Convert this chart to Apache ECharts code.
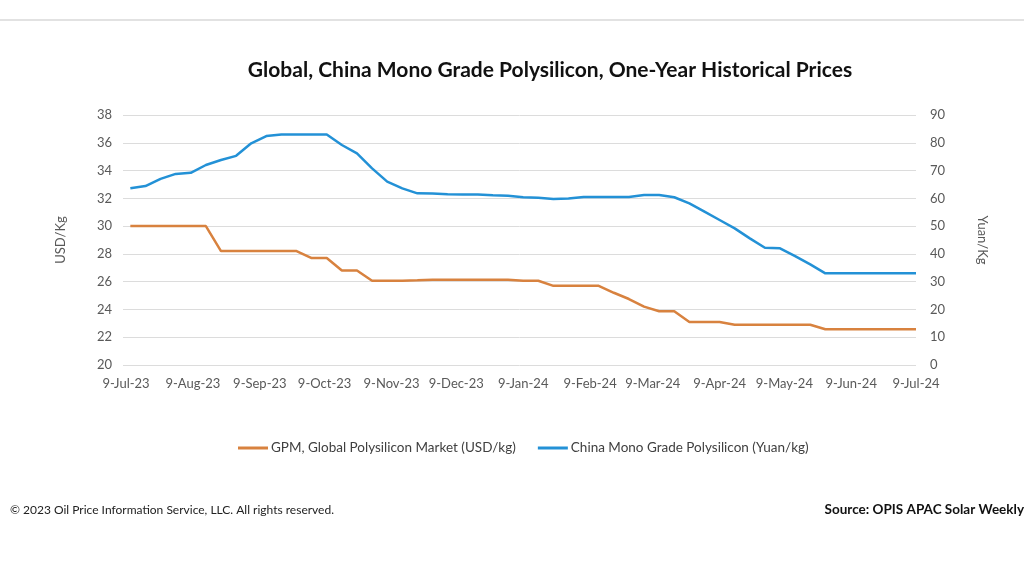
<!DOCTYPE html>
<html>
<head>
<meta charset="utf-8">
<script src="https://cdn.jsdelivr.net/npm/echarts@6/dist/echarts.min.js"></script>
<style>html,body{margin:0;padding:0;background:#fff;}#c{width:1024px;height:576px;}</style>
</head>
<body>
<div id="c"></div>
<script>
var weekDates = ["2023-07-11","2023-07-18","2023-07-25","2023-08-01","2023-08-08","2023-08-15","2023-08-22","2023-08-29",
"2023-09-05","2023-09-12","2023-09-19","2023-09-26","2023-10-03","2023-10-10","2023-10-17","2023-10-24","2023-10-31",
"2023-11-07","2023-11-14","2023-11-21","2023-11-28","2023-12-05","2023-12-12","2023-12-19","2023-12-26","2024-01-02",
"2024-01-09","2024-01-16","2024-01-23","2024-01-30","2024-02-06","2024-02-13","2024-02-20","2024-02-27","2024-03-05",
"2024-03-12","2024-03-19","2024-03-26","2024-04-02","2024-04-09","2024-04-16","2024-04-23","2024-04-30","2024-05-07",
"2024-05-14","2024-05-21","2024-05-28","2024-06-04","2024-06-11","2024-06-18","2024-06-25","2024-07-02","2024-07-09"];
var gpmUSD = [30,30,30,30,30,30,28.2,28.2,28.2,28.2,28.2,28.2,27.7,27.7,26.8,26.8,26.07,26.07,26.07,26.1,26.14,26.14,26.14,26.14,26.14,26.14,
26.07,26.07,25.7,25.7,25.7,25.7,25.2,24.75,24.2,23.87,23.87,23.1,23.1,23.1,22.9,22.9,22.9,22.9,22.9,22.9,22.57,22.57,22.57,22.57,22.57,22.57,22.57];
var chinaYuan = [63.6,64.4,67,68.8,69.2,72,73.8,75.3,79.8,82.4,83,83,83,83,79.2,76.2,70.8,66,63.6,61.8,61.7,61.5,61.4,61.4,61.1,60.9,
60.4,60.2,59.8,59.9,60.5,60.5,60.5,60.5,61.2,61.2,60.4,58.2,55.2,52.2,49.2,45.6,42.2,42,39.2,36.2,33,33,33,33,33,33,33];
var tickDates = ["2023-07-09","2023-08-09","2023-09-09","2023-10-09","2023-11-09","2023-12-09","2024-01-09","2024-02-09","2024-03-09","2024-04-09","2024-05-09","2024-06-09","2024-07-09"];
var tickLabels = ["9-Jul-23","9-Aug-23","9-Sep-23","9-Oct-23","9-Nov-23","9-Dec-23","9-Jan-24","9-Feb-24","9-Mar-24","9-Apr-24","9-May-24","9-Jun-24","9-Jul-24"];
var seriesNames = ["GPM, Global Polysilicon Market (USD/kg)","China Mono Grade Polysilicon (Yuan/kg)"];
var leftTicks = {min:20,max:38,interval:2};
var rightTicks = {min:0,max:90,interval:10};

var t0 = Date.parse(tickDates[0]+"T00:00:00Z");
function dayOf(s){ return Math.round((Date.parse(s+"T00:00:00Z")-t0)/86400000); }
var tickDays = tickDates.map(dayOf);
var labelMap = {}; tickDays.forEach(function(d,i){ labelMap[d]=tickLabels[i]; });
var xs = weekDates.map(dayOf);
var d1 = xs.map(function(x,i){return [x,gpmUSD[i]];});
var d2 = xs.map(function(x,i){return [x,chinaYuan[i]];});

var FONT = "Lato";
var chart = echarts.init(document.getElementById('c'), null, {renderer:'canvas'});
chart.setOption({
  backgroundColor:'#fff',
  animation:false,
  title:{text:"Global, China Mono Grade Polysilicon, One-Year Historical Prices",left:545,top:55,textAlign:'center',
    textStyle:{fontFamily:FONT,fontWeight:'bold',fontSize:21,color:'#111'}},
  grid:{left:123,right:108,top:115,bottom:211},
  legend:{top:436,left:233,itemGap:22,itemWidth:30,itemHeight:3,icon:'rect',
    textStyle:{fontFamily:FONT,fontSize:13.5,color:'#404040',padding:[0,0,0,-2]},
    data:seriesNames},
  xAxis:{type:'value',min:-1.4,max:tickDays[tickDays.length-1],
    axisLine:{show:false},axisTick:{show:false},splitLine:{show:false},
    axisLabel:{customValues:tickDays,formatter:function(v){return labelMap[v]||'';},
      fontFamily:FONT,fontSize:13,color:'#595959',margin:12,showMinLabel:true,showMaxLabel:true}},
  yAxis:[
    {type:'value',min:leftTicks.min,max:leftTicks.max,interval:leftTicks.interval,name:'USD/Kg',nameLocation:'middle',nameGap:56,
     nameTextStyle:{fontFamily:FONT,fontSize:13,color:'#595959'},
     axisLine:{show:false},axisTick:{show:false},
     axisLabel:{fontFamily:FONT,fontSize:13,color:'#595959',margin:11},
     splitLine:{lineStyle:{color:'#dcdcdc',width:1}}},
    {type:'value',min:rightTicks.min,max:rightTicks.max,interval:rightTicks.interval,name:'Yuan/Kg',nameLocation:'middle',nameGap:60,
     nameRotate:-90,
     nameTextStyle:{fontFamily:FONT,fontSize:13,color:'#595959'},
     axisLine:{show:false},axisTick:{show:false},
     axisLabel:{fontFamily:FONT,fontSize:13,color:'#595959',margin:14},
     splitLine:{show:false}}
  ],
  series:[
    {name:seriesNames[0],type:'line',yAxisIndex:0,data:d1,showSymbol:false,symbol:'none',
     lineStyle:{color:'#d8823f',width:2.5},itemStyle:{color:'#d8823f'}},
    {name:seriesNames[1],type:'line',yAxisIndex:1,data:d2,showSymbol:false,symbol:'none',
     lineStyle:{color:'#2391d6',width:2.5},itemStyle:{color:'#2391d6'}}
  ],
  graphic:[
    {type:'rect',left:0,top:19,shape:{width:1024,height:2},style:{fill:'#e2e2e2'}},
    {type:'text',left:10,top:504,style:{text:"© 2023 Oil Price Information Service, LLC. All rights reserved.",
      font:"12px Lato",fill:'#222'}},
    {type:'text',right:0,top:503,style:{text:"Source: OPIS APAC Solar Weekly",font:"bold 13.5px Lato",fill:'#111'}}
  ]
});
</script>
</body>
</html>
